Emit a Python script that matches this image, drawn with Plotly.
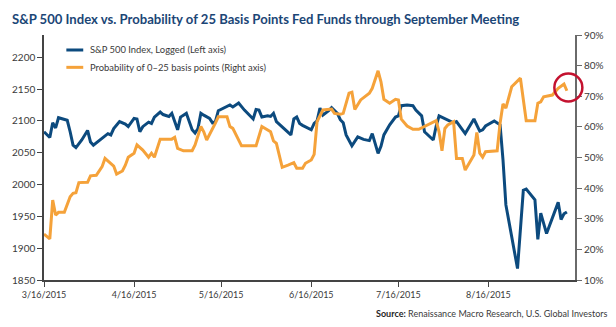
import plotly.graph_objects as go

# S&P 500 index level (left axis)
spx_dates = [
    "2015-03-16", "2015-03-18", "2015-03-19", "2015-03-20", "2015-03-21", "2015-03-22",
    "2015-03-24", "2015-03-25", "2015-03-26", "2015-03-27", "2015-03-29", "2015-03-31",
    "2015-04-01", "2015-04-02", "2015-04-04", "2015-04-06", "2015-04-07", "2015-04-08",
    "2015-04-09", "2015-04-11", "2015-04-13", "2015-04-14", "2015-04-16", "2015-04-17",
    "2015-04-18", "2015-04-19", "2015-04-21", "2015-04-22", "2015-04-23", "2015-04-25",
    "2015-04-26", "2015-04-28", "2015-04-29", "2015-05-01", "2015-05-02", "2015-05-03",
    "2015-05-04", "2015-05-06", "2015-05-07", "2015-05-08", "2015-05-09", "2015-05-10",
    "2015-05-12", "2015-05-13", "2015-05-14", "2015-05-15", "2015-05-17", "2015-05-19",
    "2015-05-20", "2015-05-22", "2015-05-24", "2015-05-27", "2015-05-28", "2015-05-29",
    "2015-05-30", "2015-06-01", "2015-06-02", "2015-06-03", "2015-06-04", "2015-06-06",
    "2015-06-07", "2015-06-09", "2015-06-10", "2015-06-11", "2015-06-12", "2015-06-13",
    "2015-06-16", "2015-06-17", "2015-06-18", "2015-06-19", "2015-06-20", "2015-06-22",
    "2015-06-23", "2015-06-25", "2015-06-26", "2015-06-27", "2015-06-28", "2015-06-30",
    "2015-07-02", "2015-07-04", "2015-07-06", "2015-07-07", "2015-07-09", "2015-07-10",
    "2015-07-11", "2015-07-13", "2015-07-15", "2015-07-16", "2015-07-17", "2015-07-19",
    "2015-07-21", "2015-07-22", "2015-07-24", "2015-07-25", "2015-07-28", "2015-07-29",
    "2015-07-30", "2015-08-02", "2015-08-04", "2015-08-05", "2015-08-08", "2015-08-11",
    "2015-08-13", "2015-08-14", "2015-08-15", "2015-08-18", "2015-08-20", "2015-08-21",
    "2015-08-22", "2015-08-26", "2015-08-28", "2015-08-29", "2015-09-01", "2015-09-02",
    "2015-09-03", "2015-09-05", "2015-09-07", "2015-09-09", "2015-09-10", "2015-09-11",
    "2015-09-12",
]
spx_values = [
    2083, 2074, 2097, 2089, 2105, 2104,
    2101, 2083, 2062, 2058, 2070, 2085,
    2067, 2062, 2069, 2076, 2080, 2078,
    2088, 2099, 2095, 2091, 2104, 2103,
    2083, 2091, 2098, 2096, 2106, 2114,
    2110, 2107, 2112, 2086, 2106, 2109,
    2112, 2086, 2081, 2088, 2112, 2109,
    2104, 2097, 2099, 2116, 2120, 2125,
    2122, 2128, 2117, 2103, 2118, 2117,
    2106, 2108, 2107, 2112, 2099, 2091,
    2086, 2078, 2103, 2106, 2096, 2093,
    2086, 2096, 2100, 2120, 2109, 2116,
    2121, 2112, 2102, 2097, 2078, 2061,
    2075, 2071, 2069, 2080, 2049, 2060,
    2078, 2094, 2106, 2108, 2124, 2125,
    2124, 2117, 2108, 2083, 2070, 2092,
    2108, 2101, 2097, 2099, 2080, 2103,
    2084, 2086, 2092, 2100, 2094, 2039,
    1968, 1868, 1991, 1993, 1976, 1914,
    1955, 1923, 1947, 1972, 1945, 1954,
    1957,
]

# Probability of a 0-25 bp fed funds rate through the September meeting (right axis, %)
prob_dates = [
    "2015-03-16", "2015-03-18", "2015-03-19", "2015-03-20", "2015-03-21", "2015-03-23",
    "2015-03-25", "2015-03-26", "2015-03-27", "2015-03-28", "2015-03-31", "2015-04-01",
    "2015-04-03", "2015-04-05", "2015-04-06", "2015-04-09", "2015-04-10", "2015-04-12",
    "2015-04-13", "2015-04-14", "2015-04-16", "2015-04-17", "2015-04-19", "2015-04-21",
    "2015-04-22", "2015-04-23", "2015-04-25", "2015-04-29", "2015-04-30", "2015-05-01",
    "2015-05-03", "2015-05-06", "2015-05-07", "2015-05-09", "2015-05-10", "2015-05-11",
    "2015-05-14", "2015-05-15", "2015-05-18", "2015-05-19", "2015-05-20", "2015-05-23",
    "2015-05-28", "2015-05-30", "2015-06-02", "2015-06-03", "2015-06-04", "2015-06-06",
    "2015-06-08", "2015-06-10", "2015-06-11", "2015-06-13", "2015-06-14", "2015-06-16",
    "2015-06-17", "2015-06-18", "2015-06-20", "2015-06-23", "2015-06-24", "2015-06-26",
    "2015-06-27", "2015-06-29", "2015-06-30", "2015-07-01", "2015-07-03", "2015-07-06",
    "2015-07-07", "2015-07-09", "2015-07-10", "2015-07-11", "2015-07-13", "2015-07-15",
    "2015-07-16", "2015-07-17", "2015-07-19", "2015-07-21", "2015-07-23", "2015-07-26",
    "2015-07-27", "2015-07-29", "2015-07-30", "2015-07-31", "2015-08-01", "2015-08-02",
    "2015-08-04", "2015-08-05", "2015-08-07", "2015-08-08", "2015-08-11", "2015-08-12",
    "2015-08-13", "2015-08-14", "2015-08-15", "2015-08-19", "2015-08-20", "2015-08-21",
    "2015-08-22", "2015-08-24", "2015-08-27", "2015-08-29", "2015-09-01", "2015-09-02",
    "2015-09-03", "2015-09-04", "2015-09-07", "2015-09-09", "2015-09-11", "2015-09-12",
]
prob_values = [
    25.0, 23.4, 36.1, 31.2, 32.1, 32.1,
    37.2, 38.3, 38.5, 41.8, 41.9, 44.0,
    44.2, 47.0, 49.7, 47.2, 44.6, 45.6,
    47.5, 50.1, 51.4, 54.1, 52.4, 50.1,
    51.4, 50.1, 56.0, 56.0, 56.6, 53.0,
    52.2, 52.2, 54.1, 60.1, 58.4, 55.7,
    61.2, 63.3, 63.3, 60.1, 59.5, 53.8,
    53.8, 60.1, 58.4, 55.4, 54.6, 46.8,
    47.5, 48.3, 46.5, 46.5, 48.1, 49.2,
    51.0, 61.7, 65.5, 65.8, 64.4, 64.1,
    64.4, 71.0, 71.3, 65.7, 68.8, 71.0,
    72.6, 78.3, 74.7, 69.0, 67.7, 69.0,
    68.8, 62.5, 60.3, 59.2, 59.2, 60.6,
    61.2, 62.0, 58.4, 52.2, 59.5, 60.6,
    61.7, 49.7, 49.7, 45.9, 50.8, 58.2,
    51.4, 50.1, 51.9, 52.2, 61.2, 67.5,
    66.1, 73.1, 75.9, 62.0, 62.0, 67.7,
    68.2, 69.8, 70.4, 72.6, 74.0, 71.8,
]

x_tick_dates = ["2015-03-16", "2015-04-16", "2015-05-16", "2015-06-16", "2015-07-16", "2015-08-16"]
x_tick_labels = ["3/16/2015", "4/16/2015", "5/16/2015", "6/16/2015", "7/16/2015", "8/16/2015"]
left_ticks = [1850, 1900, 1950, 2000, 2050, 2100, 2150, 2200]
right_ticks = [10, 20, 30, 40, 50, 60, 70, 80, 90]
right_tick_labels = [f"{v}%" for v in right_ticks]

series_names = ["S&P 500 Index, Logged (Left axis)", "Probability of 0\u201325 basis points (Right axis)"]

BLUE = "#0c4a7e"
ORANGE = "#f5a23a"
FONT = "Lato, Roboto, sans-serif"
AXIS_GRAY = "#6a6a6a"

fig = go.Figure()
fig.add_trace(go.Scatter(
    x=spx_dates, y=spx_values, mode="lines", name=series_names[0],
    line=dict(color=BLUE, width=3), yaxis="y",
))
fig.add_trace(go.Scatter(
    x=prob_dates, y=prob_values, mode="lines", name=series_names[1],
    line=dict(color=ORANGE, width=3), yaxis="y2",
))

y_tick_font = dict(family=FONT, size=10, color="#3a3a3a")
x_tick_font = dict(family=FONT, size=9, color="#3a3a3a")

fig.update_layout(
    width=616, height=327,
    margin=dict(l=42.5, r=39.3, t=35, b=47),
    paper_bgcolor="white", plot_bgcolor="white",
    showlegend=False,
    title=dict(
        text="S&P 500 Index vs. Probability of 25 Basis Points Fed Funds through September Meeting",
        font=dict(family=FONT, size=13.1, color="#1b4676", weight="bold"),
        xref="container", yref="container", x=12 / 616, y=1 - 19 / 327,
        xanchor="left", yanchor="middle",
    ),
    xaxis=dict(
        type="date", range=["2015-03-16", "2015-09-14T19:00"],
        tickvals=x_tick_dates, ticktext=x_tick_labels,
        showline=True, linecolor="#444444", linewidth=1.5,
        ticks="outside", ticklen=5, tickcolor="#444444", tickwidth=1,
        showgrid=False, zeroline=False, tickfont=x_tick_font,
    ),
    yaxis=dict(
        range=[1850, 2235], tickvals=left_ticks,
        showline=True, linecolor="#444444", linewidth=1.5,
        ticks="outside", ticklen=5, tickcolor="#444444", tickwidth=1,
        showgrid=False, zeroline=False, tickfont=y_tick_font,
    ),
    yaxis2=dict(
        range=[10, 90], tickvals=right_ticks, ticktext=right_tick_labels,
        overlaying="y", side="right",
        showline=True, linecolor=AXIS_GRAY, linewidth=2,
        ticks="outside", ticklen=5, tickcolor=AXIS_GRAY, tickwidth=1,
        showgrid=False, zeroline=False, tickfont=y_tick_font,
    ),
)

# Legend: short line swatches with labels in the top-left corner of the plot
legend_rows = [(0.9388, BLUE, series_names[0]), (0.868, ORANGE, series_names[1])]
for y, color, label in legend_rows:
    fig.add_shape(type="line", xref="paper", yref="paper",
                  x0=0.0421, x1=0.0739, y0=y, y1=y,
                  line=dict(color=color, width=3))
    fig.add_annotation(xref="paper", yref="paper", x=0.0833, y=y,
                       text=label, showarrow=False, xanchor="left", yanchor="middle",
                       font=dict(family=FONT, size=9.4, color="#3a3a3a"))

# Callout circle around the latest probability reading
fig.add_shape(type="circle", xref="paper", yref="paper",
              xsizemode="pixel", ysizemode="pixel",
              xanchor=0.9875, yanchor=0.786,
              x0=-14, x1=14, y0=-14, y1=14,
              line=dict(color="#c4122f", width=2.5))

# Source line
fig.add_annotation(
    xref="paper", yref="paper", x=1.066, y=-0.135,
    xanchor="right", yanchor="middle", showarrow=False,
    text="<b><span style='color:#1f1f1f'>Source:</span></b> Renaissance Macro Research, U.S. Global Investors",
    font=dict(family=FONT, size=9, color="#3a3a3a"),
)

fig.write_html("out.html")
